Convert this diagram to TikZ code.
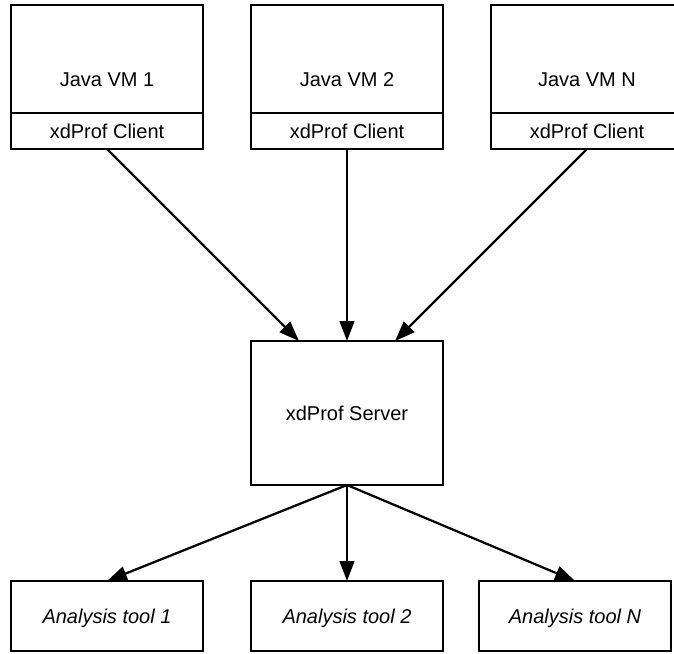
\documentclass[tikz,border=0pt]{standalone}
\usepackage{fontspec}
\setmainfont{Liberation Sans}
\usetikzlibrary{arrows.meta,calc}
\begin{document}
\begin{tikzpicture}[x=0.75pt,y=-0.75pt,
  txt/.style={font=\fontsize{15}{18}\selectfont, text height=10.75pt, text depth=0pt, inner sep=0pt},
  box/.style={txt, draw=black, line width=1.7pt, rectangle, outer sep=0pt, minimum width=144pt},
  conn/.style={line width=1.7pt, -{Triangle[length=15pt,width=11pt]}}]
\useasboundingbox (0,0) rectangle (674,653);
% top: Java VMs with clients
\node[box, minimum height=81pt] (vm1) at (107,59) {};
\node[box, minimum height=27pt] (c1) at (107,131) {xdProf Client};
\node[txt] (vm1t) at (107,79.5) {Java VM 1};
\node[box, minimum height=81pt] (vm2) at (347,59) {};
\node[box, minimum height=27pt] (c2) at (347,131) {xdProf Client};
\node[txt] (vm2t) at (347,79.5) {Java VM 2};
\node[box, minimum height=81pt] (vm3) at (587,59) {};
\node[box, minimum height=27pt] (c3) at (587,131) {xdProf Client};
\node[txt] (vm3t) at (587,79.5) {Java VM N};
% server
\node[box, minimum height=108pt] (srv) at (347,413) {xdProf Server};
% analysis tools
\node[box, minimum height=52.5pt, font=\fontsize{15}{18}\selectfont\itshape] (t1) at (107,616) {Analysis tool 1};
\node[box, minimum height=52.5pt, font=\fontsize{15}{18}\selectfont\itshape] (t2) at (347,616) {Analysis tool 2};
\node[box, minimum height=52.5pt, font=\fontsize{15}{18}\selectfont\itshape] (t3) at (575,616) {Analysis tool N};
% connectors
\draw[conn] (c1.south) -- ($(srv.north west)!0.25!(srv.north east)$);
\draw[conn] (c2.south) -- (srv.north);
\draw[conn] (c3.south) -- ($(srv.north west)!0.75!(srv.north east)$);
\draw[conn] (srv.south) -- (t1.north);
\draw[conn] (srv.south) -- (t2.north);
\draw[conn] (srv.south) -- (t3.north);
\end{tikzpicture}
\end{document}
